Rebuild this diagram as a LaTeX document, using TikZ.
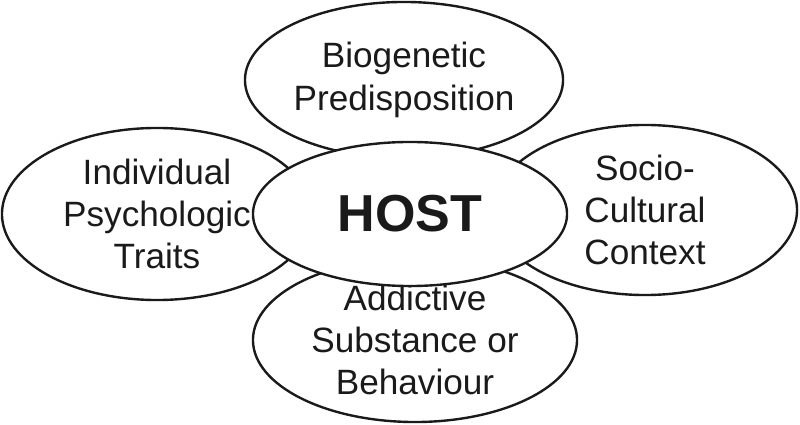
\documentclass[tikz,border=0pt]{standalone}
\usepackage{fontspec}
\usepackage{tikz}
\usetikzlibrary{shapes.geometric}
\newfontfamily\arialfont{Liberation Sans}
\definecolor{ink}{HTML}{1A1A1A}
\tikzset{
  blob/.style={ellipse, draw=ink, fill=white, line width=1.7pt, inner sep=0pt,
    align=center, text=ink, font=\arialfont\fontsize{25}{30}\selectfont},
  hub/.style={blob, font=\arialfont\bfseries\fontsize{37}{40}\selectfont},
}

\begin{document}
\begin{tikzpicture}[x=0.025cm, y=-0.025cm]
  \useasboundingbox (0,0) rectangle (800,425);
  % outer factors
  \node[blob, minimum width=7.95cm, minimum height=3.9cm] (bio) at (404,80) {Biogenetic\\Predisposition};
  \node[blob, minimum width=7.75cm, minimum height=4.3cm] (psy) at (157,214) {Individual\\Psychologic\\Traits};
  \node[blob, minimum width=7.6cm, minimum height=4.25cm] (soc) at (645,210) {Socio-\\Cultural\\Context};
  \node[blob, minimum width=8.1cm, minimum height=4.1cm] (sub) at (415,340) {Addictive\\Substance or\\Behaviour};
  % centre on top
  \node[hub, minimum width=7.85cm, minimum height=3.6cm] (host) at (410,214) {HOST};
\end{tikzpicture}
\end{document}
